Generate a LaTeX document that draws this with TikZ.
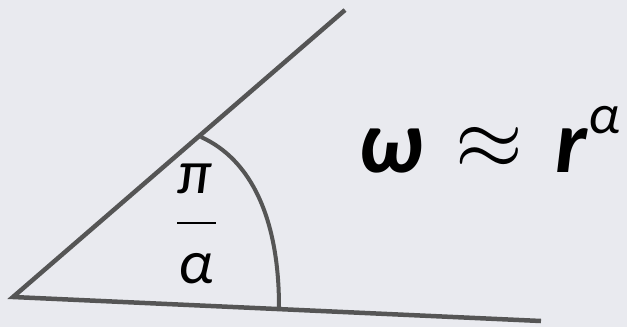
\documentclass[tikz,border=0pt]{standalone}
\usepackage{graphicx}
\usepackage{fontspec}
\setmainfont{Carlito}
\definecolor{bgc}{HTML}{E9EAEF}
\definecolor{linec}{HTML}{555555}
\begin{document}
\begin{tikzpicture}[x=1pt,y=-1pt,
  edge/.style={draw=linec,line width=4.5pt,line cap=butt,line join=miter},
  lbl/.style={inner sep=0pt,outer sep=0pt,text=black}]
\fill[bgc] (0,0) rectangle (627,327);
\useasboundingbox (0,0) rectangle (627,327);
\coordinate (v) at (13,297);
\coordinate (u) at (345,10);
\coordinate (l) at (541,321);
\coordinate (a1) at (201,137);
\coordinate (a2) at (279,307);
\draw[edge] (u) -- (v) -- (l);
\draw[edge,line width=4pt] (a1) .. controls (252,160) and (279,220) .. (a2);
\node[lbl,anchor=base] (pi) at (195,193) {\fontsize{62}{62}\selectfont\itshape π};
\draw[black,line width=2.5pt] (177,223) -- (216,223);
\node[lbl,anchor=base] (al) at (196,283) {\fontsize{62}{62}\selectfont\itshape α};
\node[lbl,anchor=base west] (om) at (358,172) {\fontsize{90}{90}\selectfont\bfseries\itshape ω};
\node[lbl,anchor=center] (ap) at (489,148) {\fontsize{24}{24}\selectfont\scalebox{3.5}{$\approx$}};
\node[lbl,anchor=base west] (r) at (555,172) {\fontsize{90}{90}\selectfont\bfseries\itshape r};
\node[lbl,anchor=base] (sa) at (604,133) {\fontsize{56}{56}\selectfont\itshape α};
\end{tikzpicture}
\end{document}
